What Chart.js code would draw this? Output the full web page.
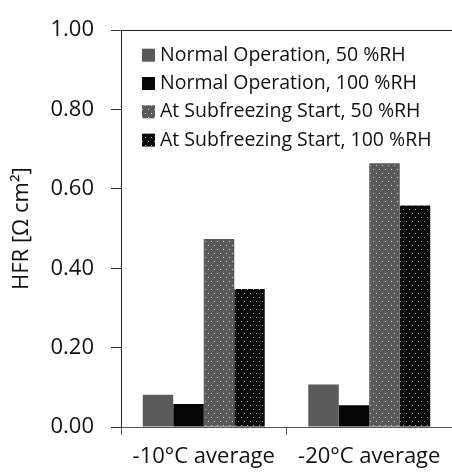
<!DOCTYPE html>
<html>
<head>
<meta charset="utf-8">
<script src="https://cdn.jsdelivr.net/npm/chart.js@4"></script>
<style>
  html, body { margin: 0; padding: 0; background: #fff; overflow: hidden; }
  #wrap { width: 452px; height: 473px; }
</style>
</head>
<body>
<div id="wrap"><canvas id="hfrChart"></canvas></div>
<script>
// HFR values per temperature case
const categories = ['-10°C average', '-20°C average'];
const normal50 = [0.081, 0.107];
const normal100 = [0.058, 0.055];
const subfreeze50 = [0.474, 0.665];
const subfreeze100 = [0.348, 0.558];
const seriesLabels = [
    'Normal Operation, 50 %RH',
    'Normal Operation, 100 %RH',
    'At Subfreezing Start, 50 %RH',
    'At Subfreezing Start, 100 %RH'
];
const yMin = 0, yMax = 1, yStep = 0.2;

const FONT = "'Open Sans', sans-serif";

// dotted fill for the subfreezing bars
function dotPattern(bg, dot) {
    const c = document.createElement('canvas');
    c.width = 6; c.height = 8;
    const g = c.getContext('2d');
    g.fillStyle = bg;
    g.fillRect(0, 0, 6, 8);
    g.fillStyle = dot;
    g.fillRect(1, 1, 1, 1);
    g.fillRect(4, 5, 1, 1);
    return g.createPattern(c, 'repeat');
}

const fills = [
    '#5a5a5a',
    '#050505',
    dotPattern('#5a5a5a', '#c8c8c8'),
    dotPattern('#0a0a0a', '#a8a8a8')
];

// legend drawn inside the plot area, top left
const innerLegend = {
    id: 'innerLegend',
    afterDraw(chart) {
        const ctx = chart.ctx;
        const area = chart.chartArea;
        ctx.save();
        ctx.font = '19.5px ' + FONT;
        ctx.textBaseline = 'middle';
        chart.data.datasets.forEach((ds, i) => {
            const y = area.top + 25 + i * 28.3;
            ctx.fillStyle = ds.backgroundColor;
            ctx.fillRect(area.left + 21, y - 6.5, 13, 13);
            ctx.fillStyle = '#111';
            ctx.fillText(ds.label, area.left + 39, y);
        });
        ctx.restore();
    }
};

const ctx = document.getElementById('hfrChart').getContext('2d');
const hfrChart = new Chart(ctx, {
    type: 'bar',
    data: {
        labels: categories,
        datasets: [normal50, normal100, subfreeze50, subfreeze100].map((vals, i) => ({
            label: seriesLabels[i],
            data: vals,
            backgroundColor: fills[i],
            borderWidth: 0,
            barPercentage: 1,
            categoryPercentage: 0.737
        }))
    },
    options: {
        responsive: true,
        maintainAspectRatio: false,
        animation: false,
        layout: { padding: { top: 22, right: 0, bottom: 0, left: 0 } },
        scales: {
            x: {
                afterFit(s) { s.height = 46; },
                grid: {
                    drawOnChartArea: false,
                    tickLength: 8,
                    color: '#555'
                },
                border: { color: '#555', width: 1 },
                ticks: {
                    padding: 9,
                    color: '#111',
                    font: { family: FONT, size: 22 }
                }
            },
            y: {
                min: yMin,
                max: yMax,
                afterFit(s) { s.width = 121; },
                grid: {
                    tickLength: 10,
                    color: c => (c.tick && c.tick.value === yMax) ? '#222' : 'rgba(0,0,0,0)',
                    tickColor: '#333'
                },
                border: { color: '#222', width: 1 },
                ticks: {
                    stepSize: yStep,
                    padding: 17,
                    color: '#111',
                    font: { family: FONT, size: 22 },
                    callback: v => Number(v).toFixed(2)
                },
                title: {
                    display: true,
                    text: 'HFR [Ω cm²]',
                    color: '#111',
                    padding: { top: 9, bottom: 4 },
                    font: { family: FONT, size: 22 }
                }
            }
        },
        plugins: {
            legend: { display: false },
            tooltip: { enabled: false }
        }
    },
    plugins: [innerLegend]
});
</script>
</body>
</html>
